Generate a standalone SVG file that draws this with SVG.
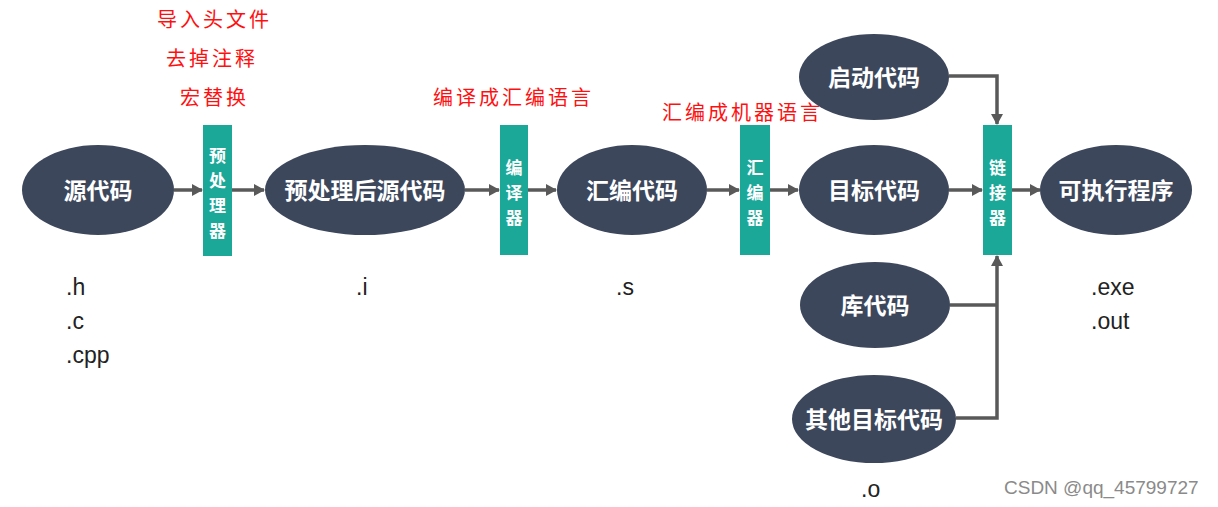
<svg xmlns="http://www.w3.org/2000/svg" width="1218" height="507" viewBox="0 0 1218 507">
<style>
.node{fill:#3C475C}
.bar{fill:#1BA898}
.nt{fill:#fff;font-family:"Noto Sans CJK SC",sans-serif;font-weight:bold;font-size:23px;text-anchor:middle;dominant-baseline:central}
.bt{fill:#fff;font-family:"Noto Sans CJK SC",sans-serif;font-weight:bold;font-size:17px;text-anchor:middle;dominant-baseline:central}
.red{fill:#FF1010;font-family:"Liberation Serif","Noto Sans CJK SC",serif;font-size:20px;letter-spacing:3px}
.ext{fill:#222;font-family:"Liberation Sans",sans-serif;font-size:23px}
.wm{fill:#8a8a8a;font-family:"Liberation Sans",sans-serif;font-size:19px}
.c{fill:none;stroke:#595959;stroke-width:3.5}
</style>
<defs>
<marker id="ah" markerWidth="12" markerHeight="12" refX="10" refY="6" orient="auto" markerUnits="userSpaceOnUse">
<path d="M0,0 L11,6 L0,12 Z" fill="#595959"/>
</marker>
</defs>
<g id="labels">
<text class="red" x="157" y="27">导入头文件</text>
<text class="red" x="166" y="66">去掉注释</text>
<text class="red" x="180" y="105">宏替换</text>
<text class="red" x="433" y="105">编译成汇编语言</text>
<text class="red" x="662" y="120">汇编成机器语言</text>
<text class="ext" x="66" y="295">.h</text>
<text class="ext" x="66" y="329">.c</text>
<text class="ext" x="66" y="363">.cpp</text>
<text class="ext" x="356" y="295">.i</text>
<text class="ext" x="616" y="295">.s</text>
<text class="ext" x="1091" y="295">.exe</text>
<text class="ext" x="1091" y="329">.out</text>
<text class="ext" x="861" y="497">.o</text>
<text class="wm" x="1004" y="494">CSDN @qq_45799727</text>
</g>
<g id="connectors">
<line class="c" x1="174" y1="190" x2="202" y2="190" marker-end="url(#ah)"/>
<line class="c" x1="232" y1="190" x2="264" y2="190" marker-end="url(#ah)"/>
<line class="c" x1="465" y1="190" x2="499" y2="190" marker-end="url(#ah)"/>
<line class="c" x1="528" y1="190" x2="556" y2="190" marker-end="url(#ah)"/>
<line class="c" x1="707" y1="190" x2="739" y2="190" marker-end="url(#ah)"/>
<line class="c" x1="770" y1="190" x2="798" y2="190" marker-end="url(#ah)"/>
<line class="c" x1="949" y1="190" x2="982" y2="190" marker-end="url(#ah)"/>
<line class="c" x1="1012" y1="190" x2="1040" y2="190" marker-end="url(#ah)"/>
<polyline class="c" points="949,76 997,76 997,124" marker-end="url(#ah)"/>
<polyline class="c" points="950,305 997,305"/>
<polyline class="c" points="956,418 997,418 997,256" marker-end="url(#ah)"/>
</g>
<g id="n-src"><ellipse class="node" cx="98" cy="190" rx="76" ry="45"/><text class="nt" x="98" y="189">源代码</text></g>
<g id="n-pre"><rect class="bar" x="203" y="125" width="29" height="131"/><text class="bt" x="217.5" y="154">预</text><text class="bt" x="217.5" y="179">处</text><text class="bt" x="217.5" y="204">理</text><text class="bt" x="217.5" y="229">器</text></g>
<g id="n-i"><ellipse class="node" cx="365" cy="190" rx="100" ry="45"/><text class="nt" x="365" y="189">预处理后源代码</text></g>
<g id="n-comp"><rect class="bar" x="500" y="125" width="28" height="130"/><text class="bt" x="514" y="166">编</text><text class="bt" x="514" y="191">译</text><text class="bt" x="514" y="216">器</text></g>
<g id="n-s"><ellipse class="node" cx="632" cy="190" rx="75" ry="45"/><text class="nt" x="632" y="189">汇编代码</text></g>
<g id="n-asm"><rect class="bar" x="740" y="125" width="30" height="130"/><text class="bt" x="755" y="166">汇</text><text class="bt" x="755" y="191">编</text><text class="bt" x="755" y="216">器</text></g>
<g id="n-start"><ellipse class="node" cx="874" cy="77" rx="75" ry="43"/><text class="nt" x="874" y="76">启动代码</text></g>
<g id="n-obj"><ellipse class="node" cx="874" cy="190" rx="75" ry="45"/><text class="nt" x="874" y="189">目标代码</text></g>
<g id="n-lib"><ellipse class="node" cx="875" cy="305" rx="75" ry="43"/><text class="nt" x="875" y="304">库代码</text></g>
<g id="n-other"><ellipse class="node" cx="874" cy="419" rx="82" ry="44"/><text class="nt" x="874" y="418">其他目标代码</text></g>
<g id="n-link"><rect class="bar" x="983" y="125" width="29" height="130"/><text class="bt" x="997.5" y="166">链</text><text class="bt" x="997.5" y="191">接</text><text class="bt" x="997.5" y="216">器</text></g>
<g id="n-exe"><ellipse class="node" cx="1116" cy="190" rx="76" ry="45"/><text class="nt" x="1116" y="189">可执行程序</text></g>
</svg>
